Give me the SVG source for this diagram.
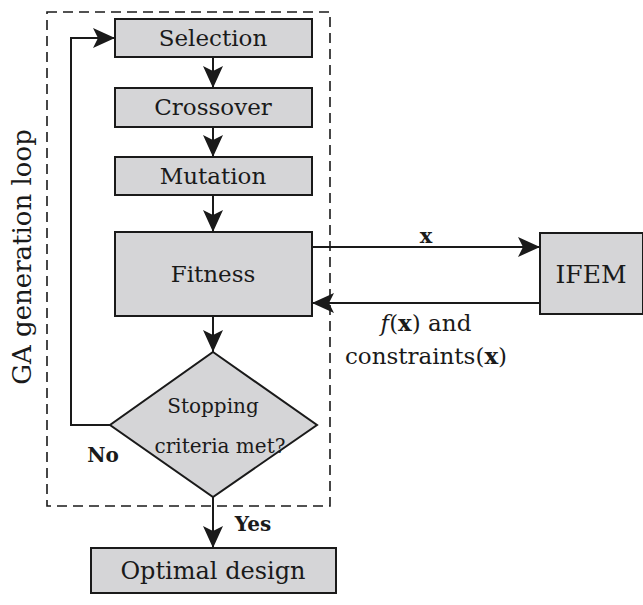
<svg xmlns="http://www.w3.org/2000/svg" width="643" height="605" viewBox="0 0 643 605">
<style>
.box{fill:#d5d5d7;stroke:#1a1a1a;stroke-width:2}
.ln{fill:none;stroke:#1a1a1a;stroke-width:2}
text{font-family:'DejaVu Serif','Liberation Serif',serif;fill:#1a1a1a;text-anchor:middle}
.b{font-weight:bold}
</style>
<defs>
<marker id="ah" markerWidth="24" markerHeight="22" refX="22" refY="10" orient="auto" markerUnits="userSpaceOnUse">
<path d="M0,0 L22,10 L0,20 L5,10 Z" fill="#1a1a1a"/>
</marker>
</defs>
<rect x="47" y="12" width="283" height="494" fill="none" stroke="#1a1a1a" stroke-width="1.6" stroke-dasharray="10,6"/>
<text font-size="26" transform="translate(31,257) rotate(-90)">GA generation loop</text>
<g id="connectors">
<line class="ln" x1="213" y1="57" x2="213" y2="88" marker-end="url(#ah)"/>
<line class="ln" x1="213" y1="127" x2="213" y2="157" marker-end="url(#ah)"/>
<line class="ln" x1="213" y1="195" x2="213" y2="232" marker-end="url(#ah)"/>
<line class="ln" x1="213" y1="316" x2="213" y2="352" marker-end="url(#ah)"/>
<polyline class="ln" points="110,425 71,425 71,38 115,38" marker-end="url(#ah)"/>
<line class="ln" x1="213" y1="497" x2="213" y2="548" marker-end="url(#ah)"/>
<line class="ln" x1="312" y1="247" x2="540" y2="247" marker-end="url(#ah)"/>
<line class="ln" x1="540" y1="303" x2="312" y2="303" marker-end="url(#ah)"/>
<text class="b" font-size="21" x="426" y="243">x</text>
<text font-size="23" x="426" y="331"><tspan font-style="italic">f</tspan>(<tspan class="b">x</tspan>) and</text>
<text font-size="23" x="426" y="364">constraints(<tspan class="b">x</tspan>)</text>
<text class="b" font-size="20" x="103" y="462">No</text>
<text class="b" font-size="20" x="253" y="531">Yes</text>
</g>
<g id="selection"><rect class="box" x="115" y="19" width="197" height="38"/><text font-size="23" x="213" y="46">Selection</text></g>
<g id="crossover"><rect class="box" x="115" y="88" width="197" height="39"/><text font-size="23" x="213" y="115">Crossover</text></g>
<g id="mutation"><rect class="box" x="115" y="157" width="197" height="38"/><text font-size="23" x="213" y="184">Mutation</text></g>
<g id="fitness"><rect class="box" x="115" y="232" width="197" height="84"/><text font-size="23" x="213" y="282">Fitness</text></g>
<g id="decision"><polygon class="box" points="213,352 317,425 213,497 110,425"/><text font-size="20" x="213" y="413">Stopping</text><text font-size="20" x="220" y="453">criteria met?</text></g>
<g id="optimal"><rect class="box" x="91" y="548" width="245" height="45"/><text font-size="24" x="213" y="579">Optimal design</text></g>
<g id="ifem"><rect class="box" x="540" y="233" width="103" height="81"/><text font-size="25" x="591" y="283">IFEM</text></g>
</svg>
